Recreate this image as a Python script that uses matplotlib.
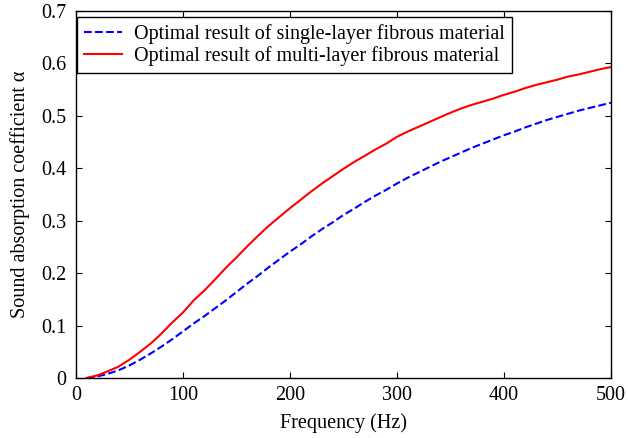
import matplotlib
matplotlib.use('Agg')
import matplotlib.pyplot as plt

plt.rcParams['font.family'] = ['Liberation Serif', 'DejaVu Serif']

# 频率 (Hz)
freq = [10, 20, 30, 40, 50, 60, 70, 80, 90, 100,
        110, 120, 130, 140, 150, 160, 170, 180, 190, 200,
        210, 220, 230, 240, 250, 260, 270, 280, 290, 300,
        310, 320, 330, 340, 350, 360, 370, 380, 390, 400,
        410, 420, 430, 440, 450, 460, 470, 480, 490, 500]

# single-layer
single = [0.0, 0.003, 0.008, 0.015, 0.024, 0.035, 0.047, 0.060, 0.074, 0.089,
          0.104, 0.118, 0.133, 0.148, 0.164, 0.180, 0.195, 0.211, 0.226, 0.241,
          0.255, 0.270, 0.284, 0.297, 0.311, 0.323, 0.336, 0.348, 0.359, 0.371,
          0.382, 0.392, 0.402, 0.412, 0.421, 0.430, 0.439, 0.447, 0.455, 0.463,
          0.470, 0.478, 0.485, 0.492, 0.498, 0.504, 0.510, 0.515, 0.520, 0.525]

# multi-layer
multi = [0.0, 0.005, 0.013, 0.022, 0.035, 0.050, 0.066, 0.085, 0.106, 0.125,
         0.148, 0.167, 0.188, 0.210, 0.230, 0.251, 0.271, 0.290, 0.307, 0.324,
         0.340, 0.356, 0.371, 0.385, 0.399, 0.412, 0.424, 0.436, 0.447, 0.460,
         0.470, 0.479, 0.488, 0.497, 0.506, 0.514, 0.521, 0.527, 0.533, 0.540,
         0.546, 0.553, 0.559, 0.564, 0.569, 0.575, 0.579, 0.584, 0.589, 0.593]

fig = plt.figure(figsize=(6.28, 4.38), dpi=100)
ax = fig.add_axes([0.121, 0.137, 0.852, 0.838])

ax.plot(freq, single, color='b', linestyle='--', linewidth=1.5,
        label='Optimal result of single-layer fibrous material')
ax.plot(freq, multi, color='r', linestyle='-', linewidth=1.5,
        label='Optimal result of multi-layer fibrous material')

ax.set_xlim(0, 500)
ax.set_ylim(0, 0.7)
ax.set_xticks([0, 100, 200, 300, 400, 500])
ax.set_yticks([0, 0.1, 0.2, 0.3, 0.4, 0.5, 0.6, 0.7])
ax.set_yticklabels(['0', '0.1', '0.2', '0.3', '0.4', '0.5', '0.6', '0.7'])
ax.tick_params(direction='in', top=True, right=True, length=4, labelsize=14.5)
ax.tick_params(axis='x', pad=6)
ax.tick_params(axis='y', pad=7)
for s in ax.spines.values():
    s.set_linewidth(1.0)

ax.set_xlabel('Frequency (Hz)', fontsize=14.5, labelpad=6)
ax.set_ylabel('Sound absorption coefficient α', fontsize=14.5, labelpad=8)

leg = ax.legend(loc='upper left', bbox_to_anchor=(0.002, 0.984), fontsize=14.5,
                frameon=True, fancybox=False, edgecolor='k', framealpha=1,
                borderaxespad=0, handlelength=1.9, handletextpad=0.6,
                labelspacing=0.1, borderpad=0.35)
leg.get_frame().set_linewidth(1.0)

fig.savefig('out.png', dpi=100)
